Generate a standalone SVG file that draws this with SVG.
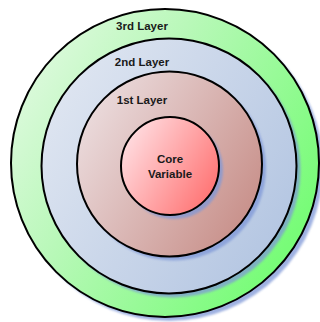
<svg xmlns="http://www.w3.org/2000/svg" width="320" height="322" viewBox="0 0 320 322">
  <defs>
    <linearGradient id="gGreen" x1="0" y1="0" x2="1" y2="0.6">
      <stop offset="0" stop-color="#eafaea"/>
      <stop offset="0.45" stop-color="#b8f8b8"/>
      <stop offset="1" stop-color="#78fc78"/>
    </linearGradient>
    <linearGradient id="gBlue" x1="0" y1="0.1" x2="1" y2="0.7">
      <stop offset="0" stop-color="#e2e8f2"/>
      <stop offset="1" stop-color="#b4c6e2"/>
    </linearGradient>
    <linearGradient id="gRose" x1="0" y1="0.1" x2="1" y2="0.7">
      <stop offset="0" stop-color="#eee2e4"/>
      <stop offset="1" stop-color="#c8908a"/>
    </linearGradient>
    <linearGradient id="gCore" x1="0" y1="0.1" x2="1" y2="0.7">
      <stop offset="0" stop-color="#ffe6ea"/>
      <stop offset="1" stop-color="#ff7474"/>
    </linearGradient>
    <filter id="soft" x="-10%" y="-10%" width="120%" height="120%">
      <feGaussianBlur stdDeviation="0.8"/>
    </filter>
  </defs>
  <style>
    .ring { stroke: #000; stroke-width: 2; }
    .shadow { fill: #7f98d8; opacity: 0.75; filter: url(#soft); }
    .label { font-family: "Liberation Sans", Arial, sans-serif; font-size: 11.5px; font-weight: bold; fill: #1a1a1a; text-anchor: middle; }
  </style>

  <g id="layer3">
    <circle class="shadow" cx="169" cy="167" r="154"/>
    <circle class="ring" cx="165" cy="163" r="154" fill="url(#gGreen)"/>
    <text class="label" x="142" y="30">3rd Layer</text>
  </g>

  <g id="layer2">
    <circle class="shadow" cx="173" cy="170" r="127.5"/>
    <circle class="ring" cx="169" cy="166" r="127.5" fill="url(#gBlue)"/>
    <text class="label" x="142" y="66">2nd Layer</text>
  </g>

  <g id="layer1">
    <circle class="shadow" cx="173.5" cy="168" r="92.5"/>
    <circle class="ring" cx="169.5" cy="164" r="92.5" fill="url(#gRose)"/>
    <text class="label" x="142" y="104">1st Layer</text>
  </g>

  <g id="core">
    <circle class="shadow" cx="174" cy="170" r="49"/>
    <circle class="ring" cx="170" cy="166" r="49" fill="url(#gCore)"/>
    <text class="label" x="170" y="163">Core</text>
    <text class="label" x="170" y="178">Variable</text>
  </g>

  <g id="connectors"/>
</svg>
